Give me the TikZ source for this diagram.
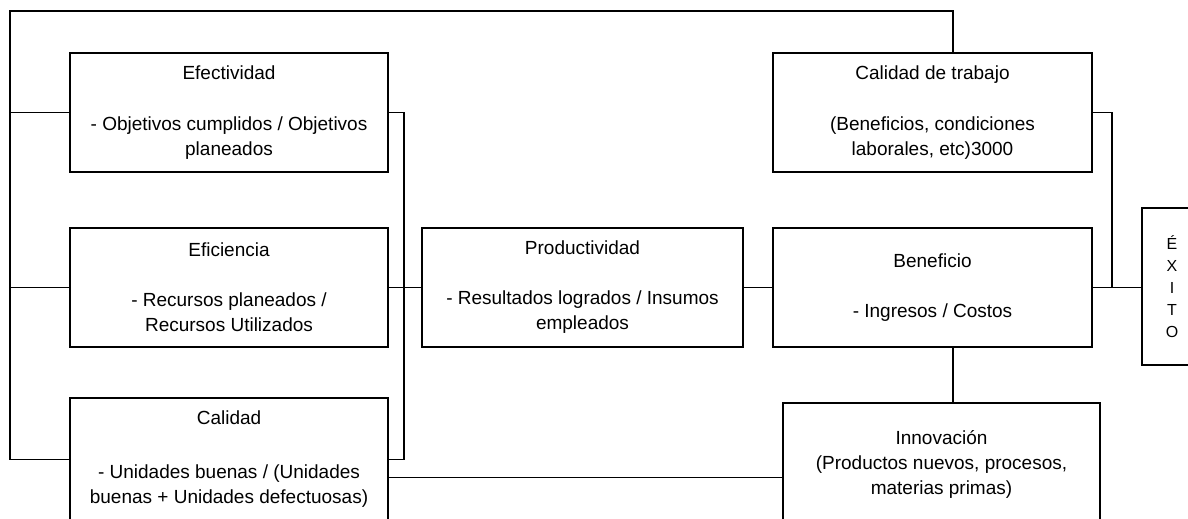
\documentclass[tikz,border=0pt]{standalone}
\usepackage{fontspec}
\setmainfont{Liberation Sans}
\usetikzlibrary{positioning}

\begin{document}
\begin{tikzpicture}[x=1pt, y=-1pt, line width=1.4pt,
  box/.style={draw, rectangle, inner sep=0pt, align=center,
    minimum width=318pt, minimum height=119pt,
    font=\fontsize{19}{25}\selectfont}]
  \useasboundingbox (0,0) rectangle (1188,519);
  \clip (0,0) rectangle (1188,519);
  % left column
  \node[box] (efect) at (229,112.5) {Efectividad\\[26pt]- Objetivos cumplidos / Objetivos\\planeados};
  \node[box] (efic) at (229,287.5) {Eficiencia\\[25pt]- Recursos planeados /\\Recursos Utilizados};
  \node[box, minimum height=123pt] (calid) at (229,459.5) {Calidad\\[29pt]- Unidades buenas / (Unidades\\buenas + Unidades defectuosas)};
  % middle and right
  \node[box, minimum width=321pt] (prod) at (582.5,287.5) {Productividad\\[25pt]- Resultados logrados / Insumos\\empleados};
  \node[box, minimum width=319pt] (ctrab) at (932.5,112.5) {Calidad de trabajo\\[26pt](Beneficios, condiciones\\laborales, etc)3000};
  \node[box, minimum width=319pt] (benef) at (932.5,287.5) {Beneficio\\[25pt]- Ingresos / Costos};
  \node[box, minimum width=317pt, minimum height=122pt] (innov) at (941.5,464) {Innovación\\(Productos nuevos, procesos,\\materias primas)};
  \node[box, minimum width=60pt, minimum height=157pt, font=\fontsize{16}{22}\selectfont] (exito) at (1172,286.5) {É\\X\\I\\T\\O};

  \coordinate (busL) at (10,11);
  \coordinate (busR) at (404,0);
  \coordinate (busE) at (1112,0);
  \coordinate (midR) at (953,0);

  \draw (ctrab.north -| midR) |- (busL) |- (calid.west);
  \draw (efect.west) -- (efect.west -| busL);
  \draw (efic.west) -- (efic.west -| busL);
  \draw (efect.east) -| (busR |- calid.east) -- (calid.east);
  \draw (efic.east) -- (prod.west);
  \draw (prod.east) -- (benef.west);
  \draw (benef.east) -- (benef.east -| exito.west);
  \draw (ctrab.east) -| (busE |- benef.east);
  \draw (benef.south -| midR) -- (innov.north -| midR);
  \draw ([yshift=-18pt]calid.east) -- ([yshift=-18pt]calid.east -| innov.west);
\end{tikzpicture}
\end{document}
